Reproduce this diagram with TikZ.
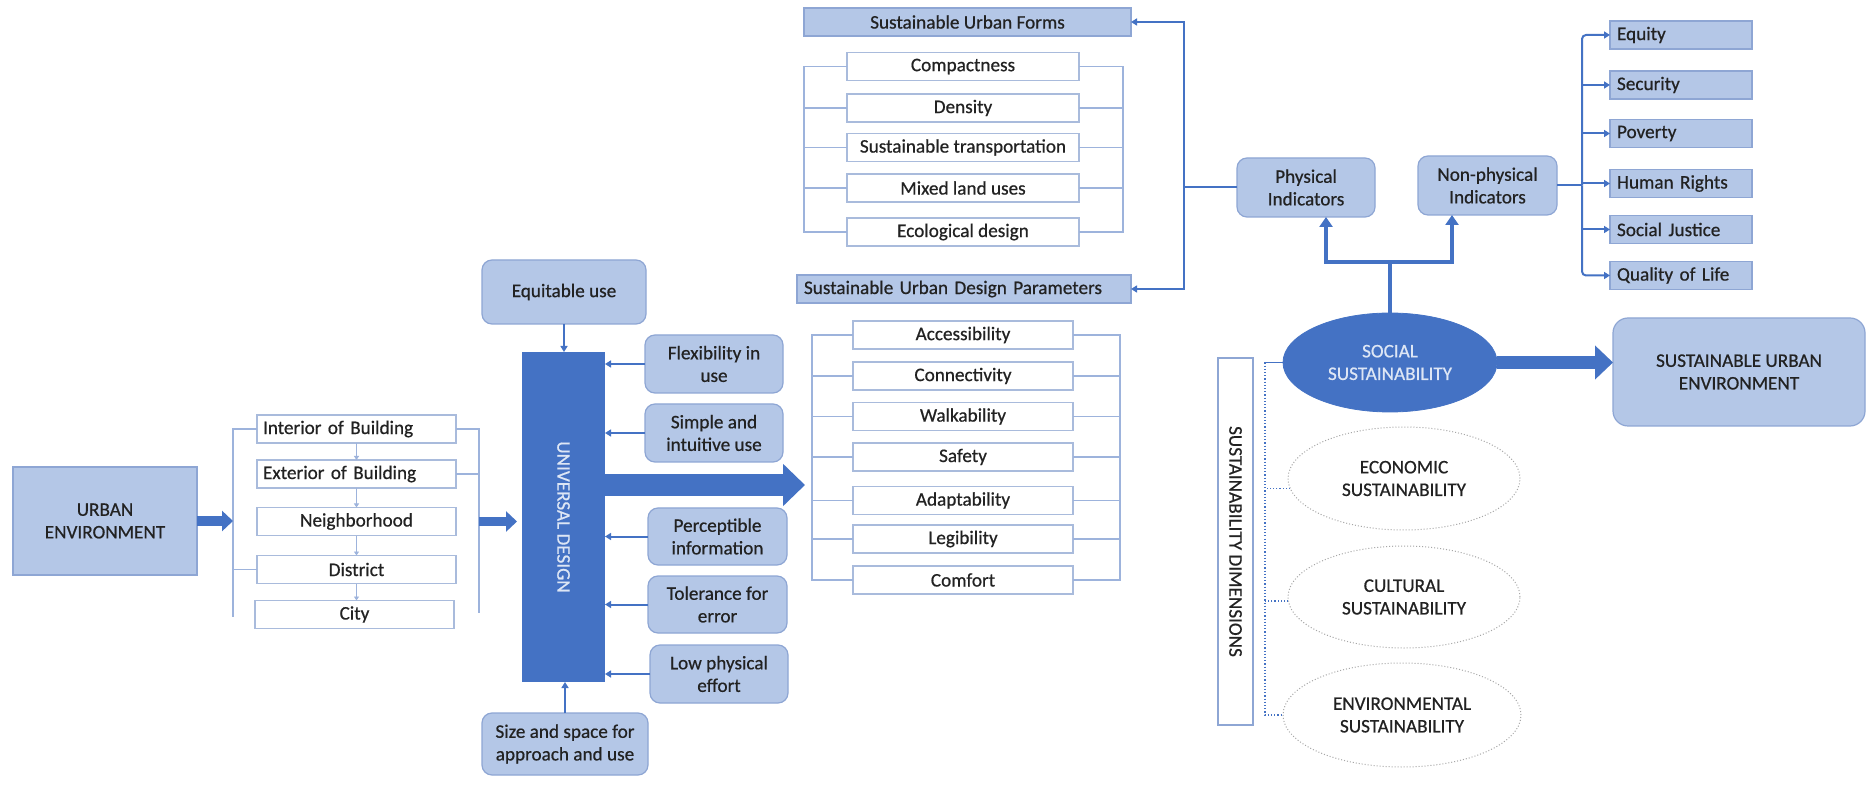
\documentclass[tikz,border=0pt]{standalone}
\usepackage{fontspec}
\setmainfont{Carlito}[FakeBold=0.6]
\usetikzlibrary{arrows.meta,shapes.geometric,calc}
\definecolor{dblue}{HTML}{4472C4}
\definecolor{lfill}{HTML}{B4C7E7}
\definecolor{lline}{HTML}{8EA6D4}
\definecolor{wline}{HTML}{A9BBDC}
\definecolor{txt}{HTML}{222222}
\definecolor{brk}{HTML}{9DB3DC}
\definecolor{soctxt}{HTML}{DDE6F5}
\definecolor{dotgray}{HTML}{A6A6A6}
\begin{document}
\begin{tikzpicture}[x=0.5pt,y=-0.5pt,
  font=\fontsize{9.6}{11.3}\selectfont, text=txt,
  sz/.style 2 args={minimum width=#1*0.5pt, minimum height=#2*0.5pt},
  base/.style={inner sep=0pt, outer sep=0pt, align=center},
  lbox/.style={base, fill=lfill, draw=lline, line width=0.6pt},
  rbox/.style={lbox, rounded corners=5pt},
  wbox/.style={base, fill=white, draw=wline, line width=0.6pt},
  dimell/.style={base, ellipse, draw=dotgray, densely dotted, line width=0.5pt},
  brkline/.style={draw=brk, line width=0.7pt},
  conn/.style={draw=dblue, line width=1pt},
  thinarrow/.style={conn, -{Triangle[width=3.5pt,length=3pt]}},
  tinyarrow/.style={draw=brk, line width=0.4pt, -{Triangle[width=2.5pt,length=2pt]}},
  midarrow/.style={draw=dblue, line width=4.5pt, -{Triangle[width=10pt,length=5.5pt]}},
  bigarrow/.style={draw=dblue, line width=11pt, -{Triangle[width=20.5pt,length=11pt]}},
  socarrow/.style={draw=dblue, line width=6.5pt, -{Triangle[width=16.5pt,length=9pt]}},
  thk/.style={draw=dblue, line width=2pt, line join=miter},
  dotc/.style={draw=dblue, densely dotted, line width=0.6pt}
]
\useasboundingbox (0,0) rectangle (1867,785);
\fill[white] (0,0) rectangle (1867,785);

% ---- urban environment and its scales ----
\node[lbox, sz={184}{108}] (ue) at (105,521) {URBAN\\ENVIRONMENT};

\node[wbox, sz={199}{28}, text width=93.5pt, align=left] (int) at (356.5,429) {Interior of Building};
\node[wbox, sz={199}{28}, text width=93.5pt, align=left] (ext) at (356.5,474) {Exterior of Building};
\node[wbox, sz={199}{28}] (nbh) at (356.5,521.5) {Neighborhood};
\node[wbox, sz={199}{28}] (dst) at (356.5,569.5) {District};
\node[wbox, sz={199}{28}] (cty) at (354.5,614.5) {City};

\draw[tinyarrow] (int.south) -- (ext.north);
\draw[tinyarrow] (ext.south) -- (nbh.north);
\draw[tinyarrow] (nbh.south) -- (dst.north);
\draw[tinyarrow] (dst.south) -- (dst.south |- cty.north);

\coordinate (lbB) at (233,617);
\coordinate (rbB) at (479,613);
\draw[brkline] (int.west) -- (int.west -| lbB) -- (lbB);
\draw[brkline] (dst.west) -- (dst.west -| lbB);
\draw[brkline] (int.east) -- (int.east -| rbB) -- (rbB);
\draw[brkline] (ext.east) -- (ext.east -| rbB);

\draw[midarrow] (ue.east) -- (ue.east -| lbB);

% ---- universal design principles ----
\node[base, fill=dblue, sz={83}{330}, text=soctxt] (ud) at (563.5,517) {\rotatebox{-90}{UNIVERSAL DESIGN}};

\draw[midarrow, shorten >=2.5pt] (nbh.east -| rbB) -- (nbh.east -| ud.west);

\node[rbox, sz={164}{64}] (equ) at (564,292) {Equitable use};
\node[rbox, sz={138}{58}] (flx) at (714,364) {Flexibility in\\use};
\node[rbox, sz={138}{58}] (smp) at (714,433) {Simple and\\intuitive use};
\node[rbox, sz={139}{57}] (per) at (717.5,536.5) {Perceptible\\information};
\node[rbox, sz={139}{57}] (tol) at (717.5,604.5) {Tolerance for\\error};
\node[rbox, sz={138}{58}] (low) at (719,674) {Low physical\\effort};
\node[rbox, sz={166}{62}] (siz) at (565,744) {Size and space for\\approach and use};

\draw[thinarrow] (equ.south) -- (equ.south |- ud.north);
\draw[thinarrow] (siz.north) -- (siz.north |- ud.south);
\foreach \b in {flx,smp,per,tol,low}
  \draw[thinarrow] (\b.west) -- (\b.west -| ud.east);

% ---- urban design parameters ----
\coordinate (alA) at (812,485);
\draw[bigarrow, shorten >=3.5pt] (ud.east |- alA) -- (alA);

\node[wbox, sz={220}{28}] (acc) at (963,335) {Accessibility};
\node[wbox, sz={220}{28}] (con) at (963,376) {Connectivity};
\node[wbox, sz={220}{28}] (wlk) at (963,416.5) {Walkability};
\node[wbox, sz={220}{28}] (saf) at (963,457) {Safety};
\node[wbox, sz={220}{28}] (adp) at (963,500.5) {Adaptability};
\node[wbox, sz={220}{28}] (leg) at (963,539) {Legibility};
\node[wbox, sz={220}{28}] (cmf) at (963,580) {Comfort};

\coordinate (arR) at (1120,335);
\draw[brkline] (acc.west) -- (acc.west -| alA) -- (cmf.west -| alA) -- (cmf.west);
\draw[brkline] (acc.east) -- (acc.east -| arR) -- (cmf.east -| arR) -- (cmf.east);
\foreach \b in {con,wlk,saf,adp,leg} {
  \draw[brkline] (\b.west) -- (\b.west -| alA);
  \draw[brkline] (\b.east) -- (\b.east -| arR);
}

% ---- urban forms ----
\node[lbox, sz={327}{28}] (suf) at (967.5,22) {Sustainable Urban Forms};
\node[lbox, sz={334}{28}, text width=160pt, align=left] (sup) at (964,289) {Sustainable Urban Design Parameters};

\node[wbox, sz={232}{28}] (cmp) at (963,66.5) {Compactness};
\node[wbox, sz={232}{28}] (den) at (963,108) {Density};
\node[wbox, sz={232}{28}] (str) at (963,147.5) {Sustainable transportation};
\node[wbox, sz={232}{28}] (mix) at (963,188) {Mixed land uses};
\node[wbox, sz={232}{28}] (eco) at (963,232) {Ecological design};

\coordinate (flL) at (804,66.5);
\coordinate (flR) at (1123,66.5);
\draw[brkline] (cmp.west) -- (cmp.west -| flL) -- (eco.west -| flL) -- (eco.west);
\draw[brkline] (cmp.east) -- (cmp.east -| flR) -- (eco.east -| flR) -- (eco.east);
\foreach \b in {den,str,mix} {
  \draw[brkline] (\b.west) -- (\b.west -| flL);
  \draw[brkline] (\b.east) -- (\b.east -| flR);
}

% ---- indicators ----
\node[rbox, sz={138}{59}] (phy) at (1306,187.5) {Physical\\Indicators};
\node[rbox, sz={139}{59}] (nph) at (1487.5,185.5) {Non-physical\\Indicators};

\coordinate (pv) at (1184,188);
\draw[conn] (phy.west) -- (phy.west -| pv);
\draw[thinarrow] (phy.west -| pv) |- (suf.east);
\draw[thinarrow] (phy.west -| pv) |- (sup.east);

\node[lbox, sz={142}{28}, text width=64pt, align=left] (eqt) at (1681,35) {Equity};
\node[lbox, sz={142}{28}, text width=64pt, align=left] (sec) at (1681,85) {Security};
\node[lbox, sz={142}{28}, text width=64pt, align=left] (pov) at (1681,133.5) {Poverty};
\node[lbox, sz={142}{28}, text width=64pt, align=left] (hum) at (1681,183.5) {Human Rights};
\node[lbox, sz={142}{28}, text width=64pt, align=left] (soj) at (1681,229.5) {Social Justice};
\node[lbox, sz={142}{28}, text width=64pt, align=left] (qol) at (1681,275.5) {Quality of Life};

\coordinate (nb) at (1582,188);
\draw[conn] (nph.east) -- (nph.east -| nb);
\draw[thinarrow, rounded corners=2pt] (nph.east -| nb) |- (eqt.west);
\draw[thinarrow, rounded corners=2pt] (nph.east -| nb) |- (qol.west);
\foreach \b in {sec,pov,hum,soj}
  \draw[thinarrow] (\b.west -| nb) -- (\b.west);

% ---- sustainability dimensions ----
\node[base, ellipse, fill=dblue, draw=dblue, sz={214}{99}, text=soctxt] (soc) at (1390,362.5) {SOCIAL\\SUSTAINABILITY};

\coordinate (pa) at (1326,262);
\coordinate (na) at (1452,262);
\draw[thk] (soc.north) -- (soc.north |- pa);
\draw[thk, {Triangle[width=6.5pt,length=5pt]}-{Triangle[width=6.5pt,length=5pt]}]
  (pa |- phy.south) -- (pa) -- (na) -- (na |- nph.south);

\node[lbox, rounded corners=7.5pt, sz={252}{108}] (sue) at (1739,372) {SUSTAINABLE URBAN\\ENVIRONMENT};
\draw[socarrow] (soc.east) -- (soc.east -| sue.west);

\node[dimell, sz={232}{103}] (ecn) at (1404,478.5) {ECONOMIC\\SUSTAINABILITY};
\node[dimell, sz={232}{102}] (cul) at (1404,597) {CULTURAL\\SUSTAINABILITY};
\node[dimell, sz={238}{104}] (env) at (1402,715) {ENVIRONMENTAL\\SUSTAINABILITY};

\node[base, fill=white, draw=lline, line width=0.6pt, sz={35}{367}] (sdr) at (1235.5,541.5) {\rotatebox{-90}{SUSTAINABILITY DIMENSIONS}};

\coordinate (dt) at (1265,360);
\draw[conn, line width=0.8pt] (soc.west) -- (soc.west -| dt);
\draw[dotc] (soc.west -| dt) -- (env.west -| dt) -- (env.west);
\draw[dotc] (ecn.185) -- (ecn.185 -| dt);
\draw[dotc] (cul.182) -- (cul.182 -| dt);
\end{tikzpicture}
\end{document}
